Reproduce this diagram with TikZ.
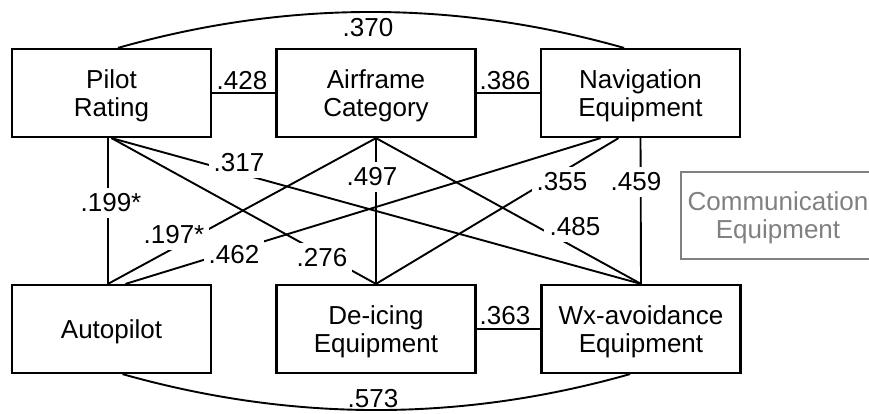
\documentclass[tikz,border=0pt]{standalone}
\usepackage{fontspec}
\setmainfont{Liberation Sans}
\definecolor{commgray}{RGB}{128,128,128}
\begin{document}
\begin{tikzpicture}[x=1pt,y=-1pt,
  txt/.style={font=\fontsize{26}{28}\selectfont},
  box/.style={txt, draw, line width=2.2pt, minimum width=199pt, minimum height=88pt,
    align=center, inner sep=0pt, text depth=0pt},
  conn/.style={line width=1.9pt},
  lbl/.style={txt, fill=white, inner xsep=5pt, inner ysep=6pt},
  plainlbl/.style={txt, inner sep=0pt}]
\useasboundingbox (0,0) rectangle (869,413);
% boxes
\node[box] (pilot) at (111.5,93) {Pilot\\Rating};
\node[box] (air) at (376,93) {Airframe\\Category};
\node[box] (nav) at (640.5,93) {Navigation\\Equipment};
\node[box] (auto) at (111.5,329) {Autopilot};
\node[box] (dei) at (376,329) {De-icing\\Equipment};
\node[box] (wx) at (641,329) {Wx-avoidance\\Equipment};
\node[box, draw=commgray, text=commgray, line width=1.8pt, minimum width=194pt, minimum height=87pt] (comm) at (778,215.5) {Communication\\Equipment};
% curved connectors
\draw[conn] ([xshift=6.5pt]pilot.north) .. controls (287,0) and (455,0) .. ([xshift=-16.5pt]nav.north);
\draw[conn] ([xshift=11pt]auto.south) .. controls (292,422) and (461,422) .. ([xshift=-11pt]wx.south);
% straight connectors
\draw[conn] (pilot.east) -- (air.west);
\draw[conn] (air.east) -- (nav.west);
\draw[conn] (dei.east) -- (wx.west);
\draw[conn] ([xshift=-3.5pt]pilot.south) -- ([xshift=-3.5pt]auto.north);
\draw[conn] (pilot.south) -- (wx.north);
\draw[conn] (pilot.south) -- (dei.north);
\draw[conn] (air.south) -- ([xshift=-3.5pt]auto.north);
\draw[conn] (air.south) -- (dei.north);
\draw[conn] (air.south) -- (wx.north);
\draw[conn] ([xshift=14pt]auto.north) -- ([xshift=-40pt]nav.south);
\draw[conn] ([xshift=-22pt]nav.south) -- (dei.north);
\draw[conn] (nav.south) -- (wx.north);
% labels
\node[plainlbl] (l370) at (368,27.5) {.370};
\node[plainlbl] (l573) at (373,399) {.573};
\node[plainlbl] (l428) at (242,80.5) {.428};
\node[plainlbl] (l386) at (505,80.5) {.386};
\node[plainlbl] (l363) at (505,316) {.363};
\node[lbl] (l199) at (111,203) {.199*};
\node[lbl] (l317) at (239,163) {.317};
\node[lbl, inner xsep=4pt] (l497) at (372,177) {.497};
\node[lbl] (l197) at (174,235) {.197*};
\node[lbl] (l462) at (234,255) {.462};
\node[lbl] (l276) at (322,258) {.276};
\node[lbl] (l355) at (562,182) {.355};
\node[lbl] (l459) at (636,182) {.459};
\node[lbl, inner xsep=6pt] (l485) at (575,227) {.485};
\end{tikzpicture}
\end{document}
